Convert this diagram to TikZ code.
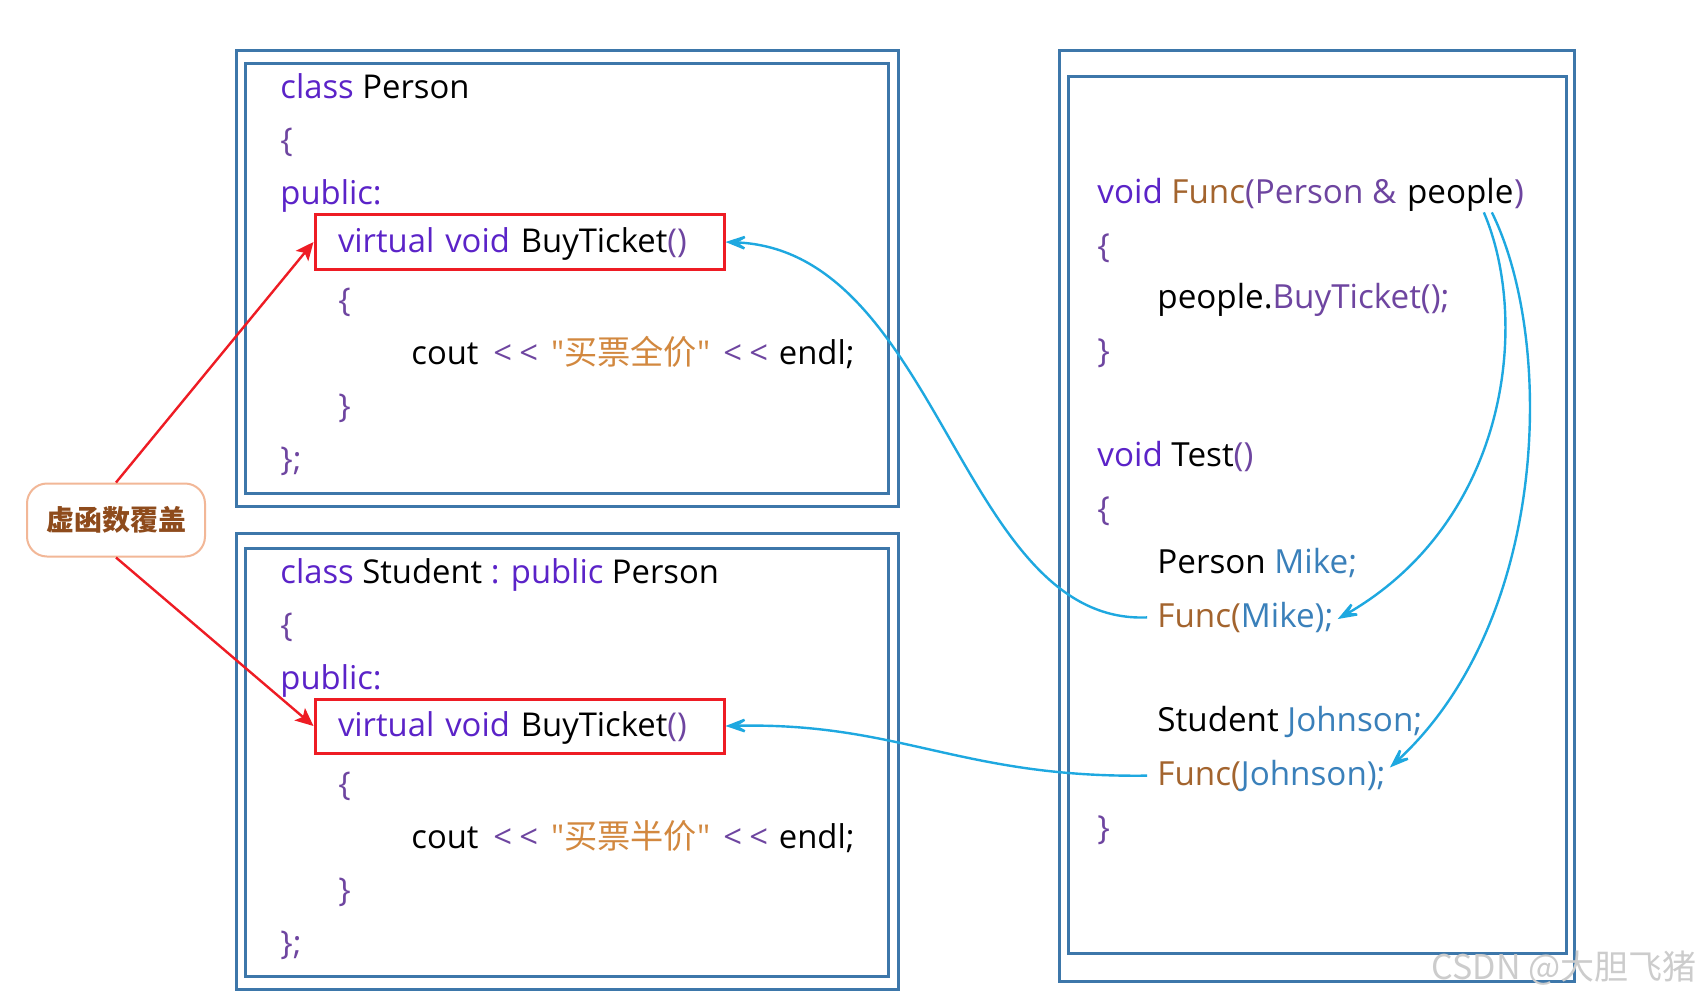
\documentclass[tikz,border=0pt]{standalone}
\usepackage{fontspec}
\setmainfont{Open Sans}
\newfontfamily\cjk{Noto Sans CJK SC}
\usetikzlibrary{arrows.meta,positioning,calc}
\definecolor{frameblue}{HTML}{3D77AA}
\definecolor{kwviolet}{HTML}{5B23C8}
\definecolor{brviolet}{HTML}{6E45A0}
\definecolor{strorange}{HTML}{D2883F}
\definecolor{fnbrown}{HTML}{A3642E}
\definecolor{varblue}{HTML}{3A80BA}
\definecolor{arrowblue}{HTML}{1EA8E0}
\definecolor{markred}{HTML}{EE1C24}
\definecolor{tagline}{HTML}{F2B797}
\definecolor{tagtext}{HTML}{8E4B1C}
\newcommand{\kw}[1]{\textcolor{kwviolet}{#1}}
\newcommand{\br}[1]{\textcolor{brviolet}{#1}}
\newcommand{\str}[1]{\textcolor{strorange}{#1}}
\newcommand{\fn}[1]{\textcolor{fnbrown}{#1}}
\newcommand{\var}[1]{\textcolor{varblue}{#1}}
\newcommand{\shl}{\br{<\hspace{0.22em}<}}
\newcommand{\cstr}[1]{\str{\textquotedbl{\cjk\fontsize{16.6}{19}\selectfont #1}\textquotedbl}}

\begin{document}
\begin{tikzpicture}[x=0.5pt,y=-0.5pt,
  frame/.style={draw=frameblue,line width=1.5pt},
  code/.style={anchor=base west,inner sep=0pt,font=\fontsize{16.4}{19}\selectfont},
  rcode/.style={code,font=\fontsize{16.6}{19}\selectfont},
  redbox/.style={draw=markred,line width=1.5pt,minimum height=27pt,text width=181.5pt,inner xsep=11.5pt,align=left,text depth=1.5pt,font=\fontsize{16.4}{19}\selectfont},
  tag/.style={draw=tagline,line width=1pt,rounded corners=10pt,minimum width=89pt,minimum height=36.5pt,text=tagtext,font=\cjk\bfseries\fontsize{14}{16}\selectfont},
  rarr/.style={-{Stealth[length=9pt,width=8pt,inset=2pt]},draw=markred,fill=markred,line width=1.2pt},
  barr/.style={-{Stealth[length=15pt,width=11pt,inset=9pt]},draw=arrowblue,line width=1.2pt}]
  \useasboundingbox[fill=white] (0,0) rectangle (1700,1000);

  \draw[frame] (236,51) rectangle (898,506);
  \draw[frame] (245,64) rectangle (888,493);
  \draw[frame] (236,533) rectangle (898,989);
  \draw[frame] (245,548) rectangle (888,976);
  \draw[frame] (1059,51) rectangle (1574,981);
  \draw[frame] (1068,77) rectangle (1566,953);

  \node[code] (pcls) at (280,99) {\kw{class} Person};
  \node[code] (pob) at (280,152) {\br{\{}};
  \node[code] (ppub) at (280,205) {\kw{public:}};
  \node[redbox] (pbuy) at (519.5,242) {\kw{virtual void} BuyTicket\br{()}};
  \node[code] (pib) at (338,311) {\br{\{}};
  \node[code] (pcout) at (411,364) {cout\hspace{0.45em}\shl\hspace{0.4em}\cstr{买票全价}\hspace{0.4em}\shl\hspace{0.33em}endl;};
  \node[code] (pic) at (338,417) {\br{\}}};
  \node[code] (pend) at (280,470) {\br{\};}};

  \node[code] (scls) at (280,583) {\kw{class} Student \kw{: public} Person};
  \node[code] (sob) at (280,636) {\br{\{}};
  \node[code] (spub) at (280,689) {\kw{public:}};
  \node[redbox] (sbuy) at (519.5,726) {\kw{virtual void} BuyTicket\br{()}};
  \node[code] (sib) at (338,795) {\br{\{}};
  \node[code] (scout) at (411,848) {cout\hspace{0.45em}\shl\hspace{0.4em}\cstr{买票半价}\hspace{0.4em}\shl\hspace{0.33em}endl;};
  \node[code] (sic) at (338,901) {\br{\}}};
  \node[code] (send) at (280,954) {\br{\};}};

  \node[rcode] (fdecl) at (1097,204) {\kw{void} \fn{Func}\br{(Person \&}\kern0.3em};
  \node[rcode] (ppl) at (fdecl.base east) {people};
  \node[rcode] (fclose) at (ppl.base east) {\br{)}};
  \node[rcode] (fob) at (1097,257) {\br{\{}};
  \node[rcode] (fcall) at (1157,308) {people.\br{BuyTicket();}};
  \node[rcode] (fcb) at (1097,362) {\br{\}}};
  \node[rcode] (tdecl) at (1097,466) {\kw{void} Test\br{()}};
  \node[rcode] (tob) at (1097,520) {\br{\{}};
  \node[rcode] (mdecl) at (1157,573) {Person \var{Mike;}};
  \node[rcode] (fmike) at (1157,627) {\fn{Func(}\var{Mike);}};
  \node[rcode] (jdecl) at (1157,731) {Student \var{Johnson;}};
  \node[rcode] (fjohn) at (1157,785) {\fn{Func(}\var{Johnson);}};
  \node[rcode] (tcb) at (1097,839) {\br{\}}};

  \node[tag] (tag) at (116,520) {虚函数覆盖};
  \draw[rarr] (tag.north) -- (pbuy.west);
  \draw[rarr] (tag.south) -- (sbuy.west);

  \draw[barr,shorten <=5pt] (fmike.west) .. controls (960,625) and (940,250) .. (pbuy.east);
  \draw[barr,shorten <=5pt] (fjohn.west) .. controls (960,778) and (900,722) .. (sbuy.east);
  \draw[barr] ($(ppl.south east)+(-30,0)$) .. controls (1530,320) and (1510,520) .. ($(fmike.east)+(4,2)$);
  \draw[barr] ($(ppl.south east)+(-22,0)$) .. controls (1555,340) and (1550,620) .. ($(fjohn.east)+(4,-8)$);

  \node[anchor=east,inner sep=0pt,text=gray!40,font=\cjk\fontsize{17}{19}\selectfont] (mark) at (1697,968) {CSDN @大胆飞猪};
\end{tikzpicture}
\end{document}
